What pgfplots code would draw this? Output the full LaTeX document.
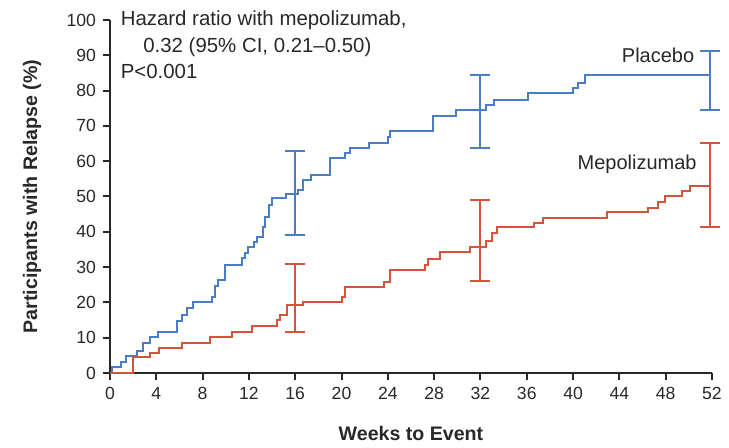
\documentclass[border=0pt]{standalone}
\usepackage{fontspec}
\setmainfont{Liberation Sans}
\usepackage{pgfplots}
\pgfplotsset{compat=1.18}
\definecolor{pblue}{RGB}{74,125,196}
\definecolor{mred}{RGB}{211,86,60}
\definecolor{axc}{RGB}{40,40,40}
\begin{document}
\begin{tikzpicture}
\path (-55pt,-36pt) rectangle (309.5pt,186.5pt);
\begin{axis}[
  scale only axis, width=301pt, height=176.5pt,
  xmin=0, xmax=52, ymin=0, ymax=100,
  axis lines*=left,
  axis line style={-, line width=1pt, axc},
  xtick={0,4,...,52}, ytick={0,10,...,100},
  tick align=outside, major tick length=3.5pt,
  tick style={line width=1pt, axc},
  font=\fontsize{8.8}{10}\selectfont,
  tick label style={font=\fontsize{8.8}{10}\selectfont, text=axc},
  /pgf/number format/assume math mode=true,
  xlabel={\bfseries Weeks to Event},
  ylabel={\bfseries Participants with Relapse (\%)},
  xlabel style={at={([yshift=-30.5pt]axis description cs:0.5,0)}, anchor=center, text=axc, font=\fontsize{9.8}{11}\selectfont},
  ylabel style={at={([xshift=-39pt]axis description cs:0,0.5)}, anchor=center, text=axc, font=\fontsize{9.8}{11}\selectfont},
  clip=false,
]
\addplot[const plot, pblue, line width=1pt] coordinates {
(0,0) (0.15,1.6) (0.92,3.2) (1.38,4.8) (2.3,6.3) (2.88,8.4) (3.45,10.3) (4.17,11.5)
(5.8,14.8) (6.2,16.4) (6.68,18.3) (7.2,20.0) (8.77,21.6) (9.07,24.6) (9.35,26.3) (9.93,30.6)
(11.37,32.5) (11.66,33.9) (11.95,35.8) (12.4,37.2) (12.7,38.6) (13.24,41.4) (13.4,44.3)
(13.7,47.6) (13.96,49.5) (15.16,50.7) (16.2,51.8) (16.7,54.7) (17.4,56.1) (19.0,60.8)
(20.3,62.2) (20.7,63.7) (22.4,65.2) (24.0,66.8) (24.2,68.6) (27.9,72.8) (29.9,74.5)
(32.5,75.9) (33.2,77.3) (36.1,79.2) (40.0,80.6) (40.4,82.2) (41.0,84.4) (51.85,84.4)
};
\addplot[const plot, mred, line width=1pt] coordinates {
(0,0) (2.0,4.6) (3.45,5.8) (4.2,7.0) (6.2,8.6) (8.6,10.3) (10.5,11.7) (12.3,13.3)
(14.4,15.0) (14.7,16.4) (15.3,19.3) (16.7,20.2) (20.0,21.6) (20.3,24.4) (23.7,25.9)
(24.2,29.2) (27.2,30.6) (27.5,32.2) (28.5,34.4) (31.1,35.8) (32.5,37.5) (33.0,39.6)
(33.4,41.4) (36.6,42.4) (37.4,43.8) (42.9,45.6) (46.5,46.8) (47.3,48.5) (47.9,50.0)
(49.4,51.6) (50.1,53.0) (51.85,53.0)
};
\addplot[draw=none, mark=none, forget plot, error bars/.cd, y dir=both, y explicit,
  error bar style={line width=1pt, pblue},
  error mark options={rotate=90, line width=1pt, mark size=5pt, pblue}]
  table[x=x, y=y, y error plus=ep, y error minus=em] {
x y ep em
16 50.7 12.2 11.6
32 74.5 9.9 10.8
51.85 84.4 6.8 9.9
};
\addplot[draw=none, mark=none, forget plot, error bars/.cd, y dir=both, y explicit,
  error bar style={line width=1pt, mred},
  error mark options={rotate=90, line width=1pt, mark size=5pt, mred}]
  table[x=x, y=y, y error plus=ep, y error minus=em] {
x y ep em
16 19.3 11.5 7.8
32 35.8 13.2 9.7
51.85 53.0 12.2 11.6
};
\node[anchor=west, text=axc, font=\fontsize{10.2}{11}\selectfont, inner sep=0pt] at (axis cs:0.9,100) {Hazard ratio with mepolizumab,};
\node[anchor=west, text=axc, font=\fontsize{10.2}{11}\selectfont, inner sep=0pt] at (axis cs:2.85,92.4) {0.32 (95\% CI, 0.21--0.50)};
\node[anchor=west, text=axc, font=\fontsize{10.2}{11}\selectfont, inner sep=0pt] at (axis cs:0.9,85.3) {P<0.001};
\node[anchor=east, text=axc, font=\fontsize{10}{11}\selectfont, inner sep=0pt] at (axis cs:50.5,90) {Placebo};
\node[anchor=east, text=axc, font=\fontsize{10}{11}\selectfont, inner sep=0pt] at (axis cs:50.7,59) {Mepolizumab};
\end{axis}
\end{tikzpicture}
\end{document}
